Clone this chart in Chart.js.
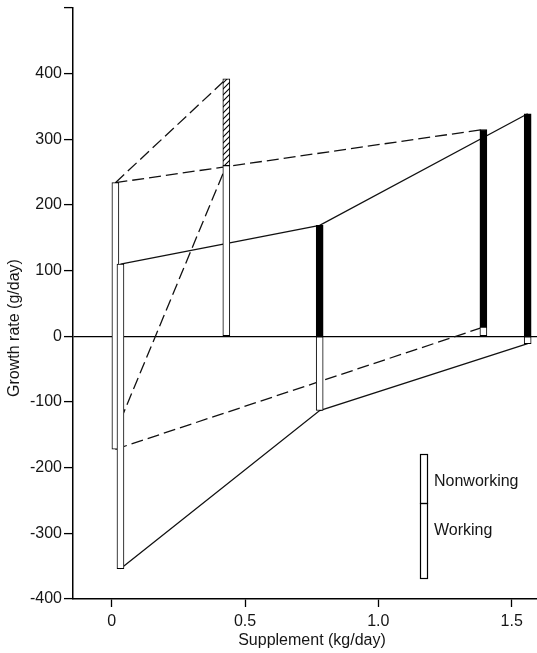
<!DOCTYPE html>
<html><head><meta charset="utf-8">
<script src="https://cdn.jsdelivr.net/npm/chart.js@4/dist/chart.umd.min.js"></script>
<style>html,body{margin:0;padding:0;background:#fff;}canvas{display:block;}</style>
</head><body>
<canvas id="c" width="537" height="653"></canvas>
<script>
// ---- Data ----
// Bars (two controls near 0, then supplemented groups)
const barX       = [0.014, 0.033, 0.43, 0.78, 1.394, 1.56];   // supplement (kg/day) as drawn
const working    = [-172, -354, 260, -113, 14, -11];           // growth rate, working (g/day)
const nonworking = [234, 110, 392, 169, 315, 339];             // growth rate, nonworking (g/day)
const barFill    = ['none', 'none', 'hatch', 'solid', 'solid', 'solid'];

// Connecting lines (dashed = one trial, solid = other trial)
const dash1X = [0.014, 0.43],  dash1Y = [234, 392];
const dash2X = [0.014, 1.394], dash2Y = [234, 315];
const dash3X = [0.033, 0.43],  dash3Y = [-128, 260];
const dash4X = [0.014, 1.394], dash4Y = [-172, 14];
const solid1X = [0.033, 0.78, 1.56], solid1Y = [110, 169, 339];
const solid2X = [0.033, 0.78, 1.56], solid2Y = [-354, -113, -11];

const xTicks = [0, 0.5, 1.0, 1.5];
const yTicks = [-400, -300, -200, -100, 0, 100, 200, 300, 400, 500];

const xTitle = 'Supplement (kg/day)';
const yTitle = 'Growth rate (g/day)';
const legendLabels = ['Nonworking', 'Working'];

// ---- Build ----
const FONT = '"Liberation Sans", Arial, Helvetica, sans-serif';
const INK = '#151515';

function makeHatch() {
  const c = document.createElement('canvas');
  c.width = 6; c.height = 6;
  const g = c.getContext('2d');
  g.fillStyle = '#fff'; g.fillRect(0, 0, 6, 6);
  g.strokeStyle = '#000'; g.lineWidth = 1.1;
  g.beginPath();
  g.moveTo(0, 6); g.lineTo(6, 0);
  g.moveTo(-1, 1); g.lineTo(1, -1);
  g.moveTo(5, 7); g.lineTo(7, 5);
  g.stroke();
  return g.createPattern(c, 'repeat');
}
const hatch = makeHatch();

const lowerSeg = barX.map((x, i) => barFill[i] === 'none'
  ? { x, y: [working[i], nonworking[i]] }
  : { x, y: [Math.min(working[i], 0), Math.max(working[i], 0)] });
const filledIdx = barX.map((x, i) => i).filter(i => barFill[i] !== 'none');
const upperSeg = filledIdx.map(i => ({ x: barX[i], y: [Math.max(working[i], 0), nonworking[i]] }));
const upperColors = filledIdx.map(i => barFill[i] === 'hatch' ? hatch : '#000');

const pts = (xs, ys) => xs.map((x, i) => ({ x, y: ys[i] }));
function lineDs(xs, ys, dashed) {
  return {
    type: 'line', data: pts(xs, ys), borderColor: '#111', borderWidth: 1.3,
    borderDash: dashed ? [12, 5] : [], pointRadius: 0, fill: false, tension: 0, order: 5
  };
}

const overlay = {
  id: 'overlay',
  afterDraw(chart) {
    const ctx = chart.ctx;
    const xs = chart.scales.x;
    ctx.save();
    ctx.fillStyle = INK;
    ctx.font = '16px ' + FONT;
    ctx.textAlign = 'center';
    ctx.textBaseline = 'middle';
    // x title
    ctx.fillText(xTitle, (xs.left + xs.right) / 2 + 7, 641);
    // y title
    ctx.save();
    ctx.translate(15, 328);
    ctx.rotate(-Math.PI / 2);
    ctx.fillText(yTitle, 0, 0);
    ctx.restore();
    // legend
    const lx = 420, lw = 7, top = 454, mid = 503, bot = 578;
    ctx.strokeStyle = '#000'; ctx.lineWidth = 1.2;
    ctx.fillStyle = '#fff';
    ctx.fillRect(lx, top, lw, bot - top);
    ctx.strokeRect(lx + 0.5, top + 0.5, lw, mid - top);
    ctx.strokeRect(lx + 0.5, mid + 0.5, lw, bot - mid);
    ctx.fillStyle = INK;
    ctx.textAlign = 'left';
    ctx.fillText(legendLabels[0], 434, 482);
    ctx.fillText(legendLabels[1], 434, 531);
    ctx.restore();
  }
};

new Chart(document.getElementById('c'), {
  type: 'bar',
  data: {
    datasets: [
      { type: 'bar', data: lowerSeg, backgroundColor: '#fff', borderColor: '#000', borderWidth: 1,
        borderSkipped: false, barThickness: 7, grouped: false, order: 1 },
      { type: 'bar', data: upperSeg, backgroundColor: upperColors, borderColor: '#000', borderWidth: 1,
        borderSkipped: false, barThickness: 7, grouped: false, order: 1 },
      lineDs(dash1X, dash1Y, true),
      lineDs(dash2X, dash2Y, true),
      lineDs(dash3X, dash3Y, true),
      lineDs(dash4X, dash4Y, true),
      lineDs(solid1X, solid1Y, false),
      lineDs(solid2X, solid2Y, false)
    ]
  },
  options: {
    responsive: false,
    animation: false,
    devicePixelRatio: 1,
    layout: { padding: { top: 8, right: 0, left: 0, bottom: 0 } },
    plugins: { legend: { display: false }, tooltip: { enabled: false }, title: { display: false } },
    scales: {
      x: {
        type: 'linear', min: -0.145, max: 1.595, offset: false,
        afterBuildTicks: s => { s.ticks = xTicks.map(v => ({ value: v })); },
        afterFit: s => { s.height = 54; },
        ticks: { callback: v => v === 0 ? '0' : v.toFixed(1), font: { size: 16, family: FONT }, color: INK, padding: 5, maxRotation: 0 },
        grid: { offset: false, drawOnChartArea: false, drawTicks: true, tickLength: 8, tickColor: '#000', tickWidth: 1.3 },
        border: { display: true, color: '#000', width: 1.5 }
      },
      y: {
        type: 'linear', min: -400, max: 500,
        afterBuildTicks: s => { s.ticks = yTicks.map(v => ({ value: v })); },
        afterFit: s => { s.width = 73; s.paddingTop = 0; s.paddingBottom = 0; },
        ticks: { callback: v => v === 500 ? '' : String(v), font: { size: 16, family: FONT }, color: INK, padding: 2 },
        grid: {
          offset: false, drawOnChartArea: true, drawTicks: true, tickLength: 9, tickColor: '#000', tickWidth: 1.3,
          color: c => (c.tick && c.tick.value === 0) ? '#000' : 'rgba(0,0,0,0)', lineWidth: 1.2
        },
        border: { display: true, color: '#000', width: 1.5 }
      }
    }
  },
  plugins: [overlay]
});
</script>
</body></html>
